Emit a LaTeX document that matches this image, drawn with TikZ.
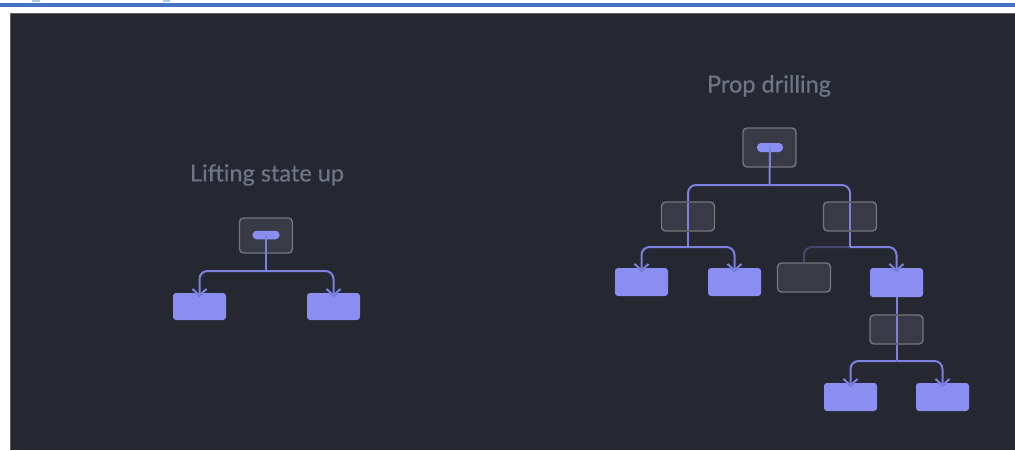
\documentclass[tikz,border=0pt]{standalone}
\usepackage{fontspec}
\newfontfamily\labfont[FakeBold=0.4]{Lato}
\usetikzlibrary{arrows.meta}
\definecolor{bgdark}{HTML}{252831}
\definecolor{bandblue}{HTML}{4472C4}
\definecolor{tickblue}{HTML}{A9C8EC}
\definecolor{framegray}{HTML}{5E6066}
\definecolor{boxpurple}{HTML}{8A8EF0}
\definecolor{linepurple}{HTML}{7C81E0}
\definecolor{dimpurple}{HTML}{45486E}
\definecolor{boxgray}{HTML}{383B46}
\definecolor{boxedge}{HTML}{74767C}
\definecolor{titlegray}{HTML}{6F7587}

\begin{document}
\begin{tikzpicture}[
					x=1pt,y=-1pt,
					pbox/.style={rectangle,rounded corners=3pt,fill=boxpurple,minimum width=53pt,minimum height=28pt,inner sep=0pt},
					gbox/.style={rectangle,rounded corners=4pt,draw=boxedge,line width=1.4pt,fill=boxgray,minimum width=53pt,minimum height=29pt,inner sep=0pt},
					pill/.style={rectangle,rounded corners=4pt,fill=boxpurple,minimum width=27pt,minimum height=8.5pt,inner sep=0pt},
					ttl/.style={font=\labfont\fontsize{23.5}{28}\selectfont,text=titlegray},
					fedge/.style={draw=linepurple,line width=2pt},
					farrow/.style={fedge,rounded corners=8pt,shorten >=-4pt,-{Straight Barb[length=6.5pt,width=14pt]},
						preaction={draw=bgdark,line width=6pt,-{Straight Barb[length=6.5pt,width=14pt]}}}
					]
					\useasboundingbox (0,0) rectangle (1015,450);
					% page frame
					\fill[bandblue] (0,3) rectangle (1015,7);
					\fill[tickblue] (32,0) rectangle (40,2);
					\fill[tickblue] (163,0) rectangle (170,2);
					\fill[bgdark] (10,13) rectangle (1015,450);
					\draw[framegray,line width=1pt] (10.5,450) -- (10.5,13.5) -- (1015,13.5);

					% lifting state up
					\node[ttl] (ltitle) at (267,175) {Lifting state up};
					\node[gbox,minimum height=35pt] (lroot) at (266,235.5) {};
					\node[pill] (lpill) at (266,235) {};
					\coordinate (lj) at (266,271);
					\foreach \i/\x in {1/199.5,2/333.5}{
						\node[pbox,minimum height=27pt] (lc\i) at (\x,306.5) {};
					}
					\foreach \i in {1,2}{
						\draw[farrow] (lj) -| (lc\i.north);
					}
					\draw[fedge] (lpill.center) -- (lj);

					% prop drilling
					\node[ttl] (ptitle) at (769,86) {Prop drilling};
					\node[gbox,minimum height=39pt] (proot) at (769.5,147.5) {};
					\node[pill,minimum width=26pt,minimum height=9pt] (ppill) at (770,147.5) {};
					\coordinate (pj) at (769.5,185);
					\node[gbox] (pm1) at (688,216.5) {};
					\node[gbox] (pm2) at (850,216.5) {};
					\coordinate (pj1) at (688,247);
					\coordinate (pj2) at (850,247);
					\foreach \i/\x in {1/641.5,2/734.5}{
						\node[pbox] (pa\i) at (\x,282) {};
					}
					\node[gbox] (pg1) at (804,277.5) {};
					\node[pbox,minimum height=29pt] (pa3) at (896.5,282.5) {};
					\node[gbox] (pm3) at (896.5,329.5) {};
					\coordinate (pj3) at (896.5,361);
					\foreach \i/\x in {4/850.5,5/942.5}{
						\node[pbox] (pa\i) at (\x,397) {};
					}

					\draw[fedge,rounded corners=8pt] (pj) -| (pm1.north);
					\draw[fedge,rounded corners=8pt] (pj) -| (pm2.north);
					\draw[fedge] (ppill.center) -- (pj);
					\foreach \m in {1,2,3}{
						\draw[fedge,shorten <=1.5pt,shorten >=1.5pt] (pm\m.north) -- (pm\m.south);
					}
					\draw[farrow] (pj1) -| (pa1.north);
					\draw[farrow] (pj1) -| (pa2.north);
					\draw[fedge] (pm1.south) -- (pj1);
					\draw[draw=dimpurple,line width=2pt,rounded corners=8pt] (pj2) -| (pg1.north);
					\draw[farrow] (pj2) -| (pa3.north);
					\draw[fedge] (pm2.south) -- (pj2);
					\draw[fedge] (pa3.south) -- (pm3.north);
					\draw[farrow] (pj3) -| (pa4.north);
					\draw[farrow] (pj3) -| (pa5.north);
					\draw[fedge] (pm3.south) -- (pj3);
				\end{tikzpicture}
\end{document}
